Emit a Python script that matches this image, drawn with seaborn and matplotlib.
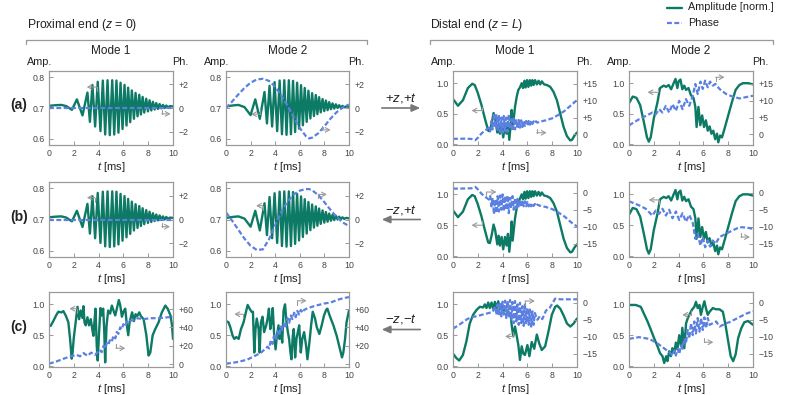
import numpy as np
import pandas as pd
import matplotlib
matplotlib.use("Agg")
import matplotlib.pyplot as plt
import seaborn as sns
from matplotlib.lines import Line2D
from matplotlib.patches import FancyArrowPatch

# ---------------- data ----------------
# Proximal end, amplitude (rows a and b share the same envelope)
PROX_M1_T = [0, 0.5, 1.0, 1.4, 1.85, 2.25, 2.7, 3.1, 3.3, 3.5, 3.72, 3.93, 4.15, 4.34, 4.53,
             4.72, 4.9, 5.1, 5.26, 5.44, 5.6, 5.77, 5.93, 6.09, 6.25, 6.38, 6.55, 6.68, 6.85, 6.98,
             7.14, 7.28, 7.41, 7.55, 7.68, 7.84, 7.98, 8.11, 8.25, 8.38, 8.52, 8.65, 8.79, 8.92, 9.06,
             9.19, 9.33, 9.46, 9.6, 9.75, 10]
PROX_M1_AMP = [0.707, 0.709, 0.71, 0.706, 0.694, 0.728, 0.676, 0.75, 0.655, 0.775, 0.64, 0.785, 0.625, 0.789, 0.614,
               0.79, 0.612, 0.79, 0.614, 0.789, 0.62, 0.782, 0.632, 0.775, 0.643, 0.766, 0.654, 0.757, 0.665, 0.749,
               0.673, 0.743, 0.679, 0.736, 0.685, 0.73, 0.689, 0.725, 0.692, 0.72, 0.695, 0.716, 0.697, 0.713, 0.699,
               0.71, 0.7, 0.708, 0.702, 0.706, 0.705]
PROX_M2_T = [0, 0.5, 1.0, 1.5, 2.0, 2.38, 2.75, 3.13, 3.33, 3.54, 3.75, 3.95, 4.16, 4.36, 4.55,
             4.74, 4.92, 5.11, 5.28, 5.45, 5.62, 5.78, 5.94, 6.1, 6.25, 6.4, 6.56, 6.7, 6.86, 7.0,
             7.15, 7.3, 7.43, 7.57, 7.7, 7.85, 7.99, 8.12, 8.26, 8.39, 8.53, 8.66, 8.8, 8.93, 9.07,
             9.2, 9.34, 9.47, 9.61, 9.76, 10]
PROX_M2_AMP = [0.705, 0.708, 0.71, 0.703, 0.677, 0.728, 0.665, 0.752, 0.65, 0.772, 0.64, 0.784, 0.625, 0.789, 0.615,
               0.79, 0.613, 0.79, 0.615, 0.788, 0.622, 0.782, 0.633, 0.774, 0.644, 0.765, 0.655, 0.756, 0.666, 0.748,
               0.674, 0.742, 0.68, 0.735, 0.686, 0.729, 0.69, 0.724, 0.693, 0.719, 0.696, 0.715, 0.698, 0.712, 0.7,
               0.709, 0.701, 0.707, 0.702, 0.705, 0.704]
# Proximal phases
PROX_M1_PH_T = [0, 2.5, 5, 7.5, 10]
PROX_A_M1_PH = [0, 0, 0, 0, 0]
PROX_B_M1_PH = [0, 0, 0, 0, 0]
PROX_M2_PH_T = [0, 0.5, 1, 1.5, 2, 2.5, 3, 3.5, 4, 4.5, 5, 5.5, 6, 6.5, 6.75, 7, 7.5, 8, 8.5, 9, 9.5, 10]
PROX_A_M2_PH = [0, 0.55, 1.15, 1.7, 2.15, 2.42, 2.48, 2.3, 1.8, 1.05, 0.2, -0.75, -1.7, -2.4, -2.58, -2.52,
                -2.15, -1.55, -0.9, -0.35, 0.05, 0.3]
PROX_B_M2_PH = [0.6, -0.1, -0.85, -1.6, -2.2, -2.55, -2.5, -1.65, -0.45, 0.65, 1.5, 2.1, 2.42, 2.55, 2.55, 2.45,
                2.05, 1.45, 0.8, 0.2, -0.25, -0.55]

# Distal end, amplitude (rows a and b)
DIST_M1_T = [0, 0.4, 0.8, 1.2, 1.55, 1.75, 2.0, 2.3, 2.57, 2.84, 2.97, 3.14, 3.27, 3.4, 3.57, 3.68, 3.78, 3.92,
             4.05, 4.19, 4.32, 4.43, 4.54, 4.65, 4.73, 4.81, 5.0, 5.14, 5.27, 5.4, 5.54, 5.65, 5.76, 5.86, 5.97,
             6.08, 6.19, 6.3, 6.4, 6.5, 6.62, 6.76, 6.9, 7.03, 7.16, 7.35, 7.57, 7.84, 8.1, 8.38, 8.65, 8.92,
             9.19, 9.46, 9.6, 9.8, 10]
DIST_M1_AMP = [0.74, 0.63, 0.72, 0.92, 0.99, 0.97, 0.84, 0.64, 0.42, 0.22, 0.21, 0.36, 0.51, 0.42, 0.19, 0.33, 0.17,
               0.31, 0.11, 0.31, 0.17, 0.36, 0.07, 0.31, 0.56, 0.25, 0.61, 0.78, 0.89, 0.93, 1.0, 0.92, 1.04, 0.93,
               1.05, 0.94, 1.05, 0.96, 1.05, 0.97, 1.05, 0.98, 1.04, 0.98, 1.03, 0.98, 0.97, 0.94, 0.86, 0.72, 0.5,
               0.28, 0.13, 0.06, 0.07, 0.14, 0.19]
DIST_M2_T = [0, 0.3, 0.6, 0.9, 1.2, 1.45, 1.6, 1.75, 2.0, 2.3, 2.5, 2.8, 3.0, 3.2, 3.4, 3.6, 3.75, 3.9, 4.0, 4.15,
             4.3, 4.45, 4.6, 4.8, 5.0, 5.2, 5.35, 5.45, 5.6, 5.75, 5.9, 6.05, 6.2, 6.35, 6.5, 6.65, 6.8, 6.95,
             7.1, 7.2, 7.35, 7.5, 7.7, 8.0, 8.3, 8.6, 8.9, 9.2, 9.6, 10]
DIST_M2_AMP = [0.67, 0.78, 0.76, 0.64, 0.36, 0.11, 0.04, 0.11, 0.42, 0.69, 0.92, 0.96, 0.94, 0.97, 0.9, 1.0, 1.07,
               0.92, 1.03, 1.06, 0.9, 0.96, 0.89, 0.92, 0.8, 0.76, 0.61, 0.28, 0.61, 0.31, 0.47, 0.28, 0.39, 0.22,
               0.29, 0.17, 0.22, 0.08, 0.17, 0.03, 0.14, 0.11, 0.25, 0.47, 0.69, 0.89, 0.97, 1.0, 1.0, 0.98]
# Distal phases
DIST_M1_PH_T = [0, 0.5, 1.0, 1.5, 1.8, 2.0, 2.3, 2.6, 2.9, 3.0,
                3.1, 3.2, 3.3, 3.4, 3.5, 3.6, 3.7, 3.8, 3.9, 4.0,
                4.1, 4.2, 4.3, 4.4, 4.5, 4.6, 4.7, 4.8, 4.9, 5.0,
                5.1, 5.2, 5.3, 5.4, 5.5, 5.6, 5.7, 5.8, 5.9, 6.0,
                6.1, 6.2, 6.3, 6.4, 6.5, 6.6, 6.7, 6.8,
                7.0, 7.5, 8.0, 8.5, 9.0, 9.5, 10]
DIST_A_M1_PH = [-1.3, -1.3, -1.25, -1.35, -1.7, -1.0, 0.3, 1.2, 2.0, 1.0,
                4.0, 1.5, 6.3, 2.0, 6.0, 1.0, 5.5, 0.8, 5.0, 0.5,
                5.5, 1.0, 5.0, 0.8, 6.0, 1.5, 4.5, 1.0, 5.0, 1.5,
                4.5, 1.8, 4.3, 2.0, 4.2, 2.2, 4.0, 2.5, 4.0, 2.7,
                4.0, 2.9, 4.0, 3.1, 3.9, 3.3, 3.9, 3.5,
                3.8, 4.2, 4.8, 5.8, 7.0, 8.6, 10.2]
DIST_B_M1_PH = [1.2, 1.2, 1.25, 1.3, 1.7, 1.0, -0.3, -1.2, -2.0, -1.0,
                -4.0, -1.5, -6.3, -2.0, -6.0, -1.0, -5.5, -0.8, -5.0, -0.5,
                -5.5, -1.0, -5.0, -0.8, -6.0, -1.5, -4.5, -1.0, -5.0, -1.5,
                -4.5, -1.8, -4.3, -2.0, -4.2, -2.2, -4.0, -2.5, -4.0, -2.7,
                -4.0, -2.9, -4.0, -3.1, -3.9, -3.3, -3.9, -3.5,
                -3.8, -4.2, -4.8, -5.8, -7.0, -8.6, -9.9]
DIST_M2_PH_T = [0, 0.81, 1.35, 1.89, 2.16, 2.43, 2.7, 2.97, 3.24, 3.51, 3.78, 4.05, 4.32, 4.59, 4.86, 5.14,
                5.35, 5.54, 5.76, 5.95, 6.14, 6.35, 6.54, 6.76, 6.97, 7.3, 7.84, 8.38, 8.92, 9.46, 10]
DIST_A_M2_PH = [2.7, 4.5, 5.5, 6.5, 6.0, 7.5, 6.5, 8.5, 6.5, 9.0, 7.0, 10.0, 7.5, 10.5, 8.5, 11.5,
                15.0, 12.0, 15.7, 13.5, 16.0, 14.0, 15.7, 14.5, 15.0, 13.5, 12.0, 11.2, 10.7, 11.1, 11.5]
DIST_B_M2_PH = [-2.5, -3.7, -4.7, -6.7, -5.2, -6.2, -4.7, -6.7, -5.0, -7.5, -5.5, -8.0, -6.0, -8.5, -6.5, -8.8,
                -13.5, -12.0, -15.5, -13.0, -16.0, -14.0, -15.8, -14.0, -15.0, -13.0, -12.0, -11.0, -10.1, -10.2, -10.6]

# Row c (-z, -t)
C_PROX_M1_T = [0, 0.13, 0.35, 0.57, 0.75, 1.0, 1.16, 1.37, 1.56, 1.7, 1.83, 1.9, 2.0, 2.18, 2.3, 2.43, 2.56,
               2.7, 2.78, 2.86, 2.96, 3.1, 3.23, 3.37, 3.48, 3.58, 3.66, 3.75, 3.85, 3.93, 4.04, 4.15, 4.23,
               4.37, 4.45, 4.53, 4.64, 4.77, 4.93, 5.07, 5.2, 5.34, 5.47, 5.63, 5.74, 5.88, 6.0, 6.15, 6.28,
               6.39, 6.5, 6.6, 6.7, 6.85, 6.98, 7.12, 7.28, 7.41, 7.63, 7.85, 8.03, 8.17, 8.36, 8.57, 8.84,
               9.1, 9.38, 9.57, 9.8, 9.92, 10]
C_PROX_M1_AMP = [0.66, 0.65, 0.73, 0.82, 0.88, 0.87, 0.89, 0.81, 0.71, 0.44, 0.12, 0.22, 0.46, 0.76, 0.96, 0.76,
                 0.9, 0.78, 0.97, 0.71, 0.66, 0.79, 0.66, 0.76, 0.61, 0.49, 0.71, 0.93, 0.33, 0.09, 0.55, 0.94,
                 0.82, 0.93, 0.6, 0.06, 0.65, 0.9, 0.85, 0.98, 0.9, 0.82, 0.93, 1.07, 0.99, 0.8, 0.88, 0.93,
                 0.66, 0.5, 0.71, 0.79, 0.87, 0.73, 0.84, 0.81, 0.87, 0.81, 0.76, 0.5, 0.17, 0.22, 0.5, 0.6,
                 0.71, 0.87, 0.98, 0.93, 0.82, 0.66, 0.44]
C_PROX_M1_PH_T = [0, 0.6, 1.16, 1.7, 2.24, 2.5, 2.8, 3.1, 3.4, 3.7, 3.85, 4.1, 4.25, 4.4, 4.55, 4.66, 4.8,
                  4.9, 5.05, 5.2, 5.35, 5.47, 5.6, 5.74, 5.87, 6.0, 6.15, 6.28, 6.42, 6.55, 6.8, 7.1, 7.63,
                  8.17, 8.7, 9.25, 10]
C_PROX_M1_PH = [0.4, 2.9, 5.8, 8.3, 10.0, 8.5, 12.0, 9.0, 12.5, 10.0, 12.0, 15.5, 13.0, 20.0, 17.0, 23.0,
                21.0, 26.0, 24.0, 31.0, 28.0, 35.0, 33.0, 40.0, 38.0, 43.5, 41.0, 46.0, 45.0, 47.0, 48.0,
                50.0, 49.0, 50.0, 50.0, 50.5, 51.6]
C_PROX_M2_T = [0, 0.2, 0.35, 0.54, 0.68, 0.84, 1.03, 1.22, 1.43, 1.65, 1.76, 1.92, 2.08, 2.19, 2.3, 2.4, 2.5,
               2.65, 2.73, 2.84, 2.97, 3.1, 3.27, 3.38, 3.49, 3.6, 3.7, 3.8, 3.92, 4.03, 4.14, 4.27, 4.35,
               4.46, 4.57, 4.68, 4.8, 4.92, 5.03, 5.13, 5.24, 5.32, 5.43, 5.51, 5.62, 5.73, 5.84, 5.95, 6.08,
               6.2, 6.35, 6.51, 6.62, 6.78, 6.92, 7.05, 7.24, 7.38, 7.59, 7.78, 7.97, 8.14, 8.24, 8.46, 8.73,
               9.0, 9.27, 9.43, 9.54, 9.68, 9.8, 10]
C_PROX_M2_AMP = [0.73, 0.71, 0.63, 0.49, 0.44, 0.47, 0.44, 0.6, 0.71, 0.9, 0.99, 0.93, 0.88, 0.88, 0.22, 0.6,
                 0.77, 0.6, 0.22, 0.71, 0.8, 0.55, 0.66, 0.77, 0.93, 0.6, 0.71, 0.94, 0.49, 0.27, 0.49, 0.66,
                 0.44, 0.6, 0.38, 0.9, 1.0, 0.71, 0.55, 0.44, 0.22, 0.11, 0.49, 0.6, 0.14, 0.44, 0.55, 0.66,
                 0.22, 0.44, 0.55, 0.33, 0.11, 0.38, 0.66, 0.88, 0.77, 0.63, 0.52, 0.66, 0.82, 0.91, 0.93, 0.8,
                 0.66, 0.49, 0.27, 0.14, 0.22, 0.44, 0.71, 0.9]
C_PROX_M2_PH_T = [0, 0.9, 1.7, 2.24, 2.8, 3.1, 3.38, 3.5, 3.65, 3.78, 3.9, 4.05, 4.2, 4.33, 4.46, 4.6, 4.73,
                  4.86, 5.0, 5.14, 5.27, 5.4, 5.54, 5.67, 5.8, 5.95, 6.08, 6.22, 6.35, 6.6, 7.0, 7.4, 7.97,
                  8.5, 9.05, 9.6, 10]
C_PROX_M2_PH = [0.4, 2.2, 4.7, 8.3, 12.0, 15.5, 19.0, 17.0, 26.0, 22.0, 31.0, 27.0, 36.0, 31.0, 41.0, 37.0,
                45.0, 41.0, 50.0, 45.0, 53.0, 49.0, 56.0, 51.0, 58.0, 54.0, 59.0, 56.0, 59.0, 60.6, 62.5,
                64.0, 66.0, 67.0, 70.0, 72.0, 73.0]
C_DIST_M1_T = [0, 0.27, 0.5, 0.8, 1.08, 1.35, 1.62, 1.9, 2.16, 2.43, 2.57, 2.7, 2.84, 2.97, 3.11, 3.24, 3.38,
               3.51, 3.65, 3.78, 3.92, 4.05, 4.3, 4.5, 4.65, 4.73, 4.86, 5.0, 5.13, 5.27, 5.4, 5.54, 5.67, 5.8,
               6.0, 6.16, 6.35, 6.55, 6.76, 6.95, 7.16, 7.43, 7.7, 7.97, 8.24, 8.4, 8.65, 8.92, 9.19, 9.46,
               9.73, 10]
C_DIST_M1_AMP = [0.2, 0.13, 0.09, 0.18, 0.4, 0.69, 0.83, 0.91, 0.96, 0.95, 1.0, 0.94, 1.03, 0.94, 1.03, 0.93,
                 1.04, 0.93, 1.05, 0.92, 1.0, 0.9, 0.9, 0.87, 0.83, 0.67, 0.48, 0.64, 0.5, 0.34, 0.1, 0.32, 0.2,
                 0.18, 0.34, 0.16, 0.39, 0.28, 0.51, 0.37, 0.26, 0.32, 0.56, 0.83, 0.96, 0.98, 0.93, 0.82, 0.69,
                 0.64, 0.69, 0.77]
C_DIST_M1_PH_T = [0, 0.4, 0.8, 1.2, 1.6, 2.16, 2.7, 3.2,
                  3.4, 3.5, 3.6, 3.7, 3.8, 3.9, 4.0, 4.1, 4.2, 4.3,
                  4.4, 4.5, 4.6, 4.7, 4.8, 4.9, 5.0, 5.1, 5.2, 5.3,
                  5.4, 5.5, 5.6, 5.7, 5.8, 5.9, 6.0, 6.1, 6.2, 6.3,
                  6.4, 6.5, 6.6, 6.8, 7.0, 7.2, 7.5, 7.8, 8.0, 8.24, 8.65, 9.2, 10]
C_DIST_M1_PH = [-7.6, -6.7, -5.7, -4.7, -4.2, -3.7, -3.2, -2.7,
                -1.0, -3.5, -0.5, -3.8, 0.0, -4.0, 0.3, -3.5, 0.6, -4.5,
                0.5, -4.0, 0.8, -5.0, 0.2, -6.0, 0.5, -5.5, -0.5, -6.5,
                0.0, -6.0, -1.0, -6.8, -0.5, -6.0, -1.5, -6.5, -2.0, -7.0,
                -2.5, -6.5, -3.0, -5.0, -4.0, -4.8, -2.3, -1.5, -0.3, 1.2, 1.0, 1.0, 1.0]
C_DIST_M2_T = [0, 0.54, 0.95, 1.2, 1.5, 1.76, 2.03, 2.3, 2.5, 2.7, 2.84, 3.0, 3.1, 3.24, 3.38, 3.5, 3.65,
               3.78, 3.9, 4.05, 4.2, 4.3, 4.46, 4.6, 4.73, 4.86, 5.07, 5.27, 5.4, 5.54, 5.68, 5.8, 5.95, 6.08,
               6.2, 6.35, 6.5, 6.76, 7.0, 7.3, 7.57, 7.78, 8.0, 8.2, 8.4, 8.6, 8.8, 9.05, 9.3, 9.6, 9.86, 10]
C_DIST_M2_AMP = [0.99, 0.99, 0.96, 0.85, 0.72, 0.59, 0.45, 0.32, 0.21, 0.16, 0.05, 0.16, 0.08, 0.24, 0.16,
                 0.29, 0.21, 0.38, 0.27, 0.5, 0.32, 0.62, 0.29, 0.69, 0.77, 0.83, 0.91, 0.96, 1.04, 0.94, 0.99,
                 0.83, 0.96, 1.05, 0.94, 0.83, 0.88, 0.94, 0.92, 0.92, 0.88, 0.67, 0.4, 0.16, 0.08, 0.19, 0.45,
                 0.61, 0.71, 0.73, 0.69, 0.67]
C_DIST_M2_PH_T = [0, 0.81, 1.62, 2.16, 2.7, 3.24, 3.51, 3.65, 3.78, 3.92, 4.05, 4.2, 4.32, 4.46, 4.59, 4.73,
                  4.86, 5.0, 5.14, 5.27, 5.4, 5.54, 5.68, 5.81, 5.95, 6.08, 6.22, 6.35, 6.5, 6.76, 7.03, 7.3,
                  7.57, 7.84, 8.11, 8.38, 8.92, 9.46, 10]
C_DIST_M2_PH = [-10.6, -10.1, -10.6, -11.6, -13.0, -14.5, -15.5, -14.0, -15.5, -13.5, -15.0, -12.5, -13.5,
                -10.5, -12.0, -8.0, -10.5, -6.0, -9.5, -5.5, -9.0, -4.5, -8.5, -4.5, -8.0, -4.3, -7.5, -4.5,
                -6.5, -6.0, -5.5, -7.0, -6.5, -6.0, -5.7, -5.2, -4.2, -3.2, -2.5]

ROW_LABELS = ["(a)", "(b)", "(c)"]
DIRECTION_LABELS = ["+$z$,+$t$", "\u2212$z$,+$t$", "\u2212$z$,\u2212$t$"]
MODE_TITLES = ["Mode 1", "Mode 2", "Mode 1", "Mode 2"]
X_TICKS = [0, 2, 4, 6, 8, 10]

# ---------------- style ----------------
sns.set_theme(style="white")
plt.rcParams['font.family'] = ['Liberation Sans', 'DejaVu Sans']
plt.rcParams['mathtext.fontset'] = 'custom'
plt.rcParams['mathtext.it'] = 'Liberation Sans:italic'
plt.rcParams['mathtext.rm'] = 'Liberation Sans'
plt.rcParams['mathtext.sf'] = 'Liberation Sans'

AMP_C = '#0c7a64'
PH_C = '#5b80e2'
SPINE = '#999999'
TICKLAB = '#444444'
IND = '#9a9a9a'
TXT = '#222222'

W, H = 789, 395
fig = plt.figure(figsize=(W / 100, H / 100), dpi=100)


def fx(x):
    return x / W


def fy(y):
    return 1 - y / H


COLS = [(49, 173), (226, 349), (453, 577), (629, 753)]
ROWS = [(71, 145), (182, 257), (292, 367)]

AMP_PROX = dict(lim=(0.58, 0.82), ticks=[0.6, 0.7, 0.8], labels=["0.6", "0.7", "0.8"])
AMP_FULL = dict(lim=(-0.015, 1.2), ticks=[0.0, 0.5, 1.0], labels=["0.0", "0.5", "1.0"])
PH_SMALL = dict(lim=(-np.pi, np.pi), ticks=[-2, 0, 2], labels=["\u22122", "0", "+2"])
PH_POS = dict(lim=(-np.pi, 6 * np.pi), ticks=[0, 5, 10, 15], labels=["0", "+5", "+10", "+15"])
PH_NEG = dict(lim=(-6 * np.pi, np.pi), ticks=[-15, -10, -5, 0], labels=["\u221215", "\u221210", "\u22125", "0"])
PH_BIG = dict(lim=(-np.pi, 25 * np.pi), ticks=[0, 20, 40, 60], labels=["0", "+20", "+40", "+60"])

# (amp_t, amp_v, ph_t, ph_v, amp_axis, ph_axis, amp_indicator, ph_indicator)
# indicator: (tail_t, head_t, y, stub_px)
PANELS = [
    [(PROX_M1_T, PROX_M1_AMP, PROX_M1_PH_T, PROX_A_M1_PH, AMP_PROX, PH_SMALL, (3.85, 3.05, 0.768, -4), (9.1, 9.8, -0.5, 4)),
     (PROX_M2_T, PROX_M2_AMP, PROX_M2_PH_T, PROX_A_M2_PH, AMP_PROX, PH_SMALL, (2.8, 2.05, 0.68, 4), (7.8, 8.5, -1.86, 4)),
     (DIST_M1_T, DIST_M1_AMP, DIST_M1_PH_T, DIST_A_M1_PH, AMP_FULL, PH_POS, (2.3, 1.5, 0.55, 4), (6.75, 7.55, 0.5, 4)),
     (DIST_M2_T, DIST_M2_AMP, DIST_M2_PH_T, DIST_A_M2_PH, AMP_FULL, PH_POS, (2.3, 1.5, 0.85, 4), (7.0, 7.7, 17.0, -4))],
    [(PROX_M1_T, PROX_M1_AMP, PROX_M1_PH_T, PROX_B_M1_PH, AMP_PROX, PH_SMALL, (3.7, 3.06, 0.77, -4), (9.1, 9.75, -0.6, 4)),
     (PROX_M2_T, PROX_M2_AMP, PROX_M2_PH_T, PROX_B_M2_PH, AMP_PROX, PH_SMALL, (3.0, 2.45, 0.744, -4), (7.5, 8.2, 2.1, -4)),
     (DIST_M1_T, DIST_M1_AMP, DIST_M1_PH_T, DIST_B_M1_PH, AMP_FULL, PH_NEG, (2.3, 1.5, 0.5, 4), (2.7, 3.5, 0.2, -4)),
     (DIST_M2_T, DIST_M2_AMP, DIST_M2_PH_T, DIST_B_M2_PH, AMP_FULL, PH_NEG, (2.45, 1.6, 0.91, -4), (9.05, 9.75, -13.0, 4))],
    [(C_PROX_M1_T, C_PROX_M1_AMP, C_PROX_M1_PH_T, C_PROX_M1_PH, AMP_FULL, PH_BIG, (2.25, 1.65, 0.93, -4), (5.4, 6.15, 17.3, 4)),
     (C_PROX_M2_T, C_PROX_M2_AMP, C_PROX_M2_PH_T, C_PROX_M2_PH, AMP_FULL, PH_BIG, (1.35, 0.68, 0.84, -4), (5.8, 6.55, 69.0, -4)),
     (C_DIST_M1_T, C_DIST_M1_AMP, C_DIST_M1_PH_T, C_DIST_M1_PH, AMP_FULL, PH_NEG, (4.86, 4.2, 0.48, 4), (5.8, 6.6, 0.5, -4)),
     (C_DIST_M2_T, C_DIST_M2_AMP, C_DIST_M2_PH_T, C_DIST_M2_PH, AMP_FULL, PH_NEG, (5.0, 4.3, 0.83, 4), (6.08, 6.8, -11.6, 4))],
]


def indicator(ax, spec, lim, hpx):
    tail, head, y, stub = spec
    dy = stub * (lim[1] - lim[0]) / hpx
    ax.add_line(Line2D([tail, tail], [y, y + dy], color=IND, lw=0.8, zorder=5))
    ax.annotate('', xy=(head, y), xytext=(tail, y),
                arrowprops=dict(arrowstyle='->,head_length=0.25,head_width=0.14', color=IND, lw=0.8,
                                shrinkA=0, shrinkB=0), zorder=5)


for r, (y0, y1) in enumerate(ROWS):
    for c, (x0, x1) in enumerate(COLS):
        at, av, pt, pv, aax, pax, aind, pind = PANELS[r][c]
        ax = fig.add_axes([fx(x0), fy(y1), (x1 - x0) / W, (y1 - y0) / H])
        ax2 = ax.twinx()
        amp_df = pd.DataFrame({'t': at, 'v': av})
        ph_df = pd.DataFrame({'t': pt, 'v': pv})
        sns.lineplot(data=amp_df, x='t', y='v', ax=ax, color=AMP_C, lw=1.7, estimator=None, sort=False)
        sns.lineplot(data=ph_df, x='t', y='v', ax=ax2, color=PH_C, lw=1.6, estimator=None, sort=False,
                     linestyle=(0, (2.2, 1.1)), dash_capstyle='butt')
        ax.set_xlim(0, 10)
        ax.set_xticks(X_TICKS)
        ax.set_ylim(*aax['lim'])
        ax.set_yticks(aax['ticks'])
        ax.set_yticklabels(aax['labels'])
        ax2.set_ylim(*pax['lim'])
        ax2.set_yticks(pax['ticks'])
        ax2.set_yticklabels(pax['labels'])
        ax.set_ylabel('')
        ax2.set_ylabel('')
        ax.set_xlabel('$t$ [ms]', fontsize=8, color=TXT, labelpad=1.5)
        for a in (ax, ax2):
            for s in a.spines.values():
                s.set_color(SPINE)
                s.set_linewidth(0.8)
        ax.tick_params(axis='both', direction='in', length=3, width=0.7, color=SPINE,
                       labelsize=6.3, labelcolor=TICKLAB, pad=3)
        ax.tick_params(axis='y', left=True, right=False)
        ax.tick_params(axis='x', bottom=True, top=False)
        ax2.tick_params(axis='y', direction='in', length=3, width=0.7, color=SPINE,
                        labelsize=6.3, labelcolor=TICKLAB, pad=4, right=True, left=False)
        indicator(ax, aind, aax['lim'], y1 - y0)
        indicator(ax2, pind, pax['lim'], y1 - y0)
        if r == 0:
            fig.text(fx((x0 + x1) / 2), fy(51), MODE_TITLES[c], ha='center', va='center',
                     fontsize=8.5, color=TXT)
            fig.text(fx(x0 - 22), fy(62), "Amp.", ha='left', va='center', fontsize=7.8, color=TXT)
            fig.text(fx(x1 - 1), fy(62), "Ph.", ha='left', va='center', fontsize=7.8, color=TXT)

    yc = (y0 + y1) / 2
    fig.text(fx(19), fy(yc - 3), ROW_LABELS[r], ha='center', va='center', fontsize=10,
             fontweight='bold', color=TXT)
    if r == 0:
        p0, p1 = (379, 423)
    else:
        p0, p1 = (423, 379)
    fig.add_artist(FancyArrowPatch((fx(p0), fy(yc)), (fx(p1), fy(yc)), transform=fig.transFigure,
                                   arrowstyle='-|>,head_length=5,head_width=2.2', mutation_scale=1,
                                   color='#777777', lw=1.2))
    fig.text(fx(401), fy(yc - 10), DIRECTION_LABELS[r], ha='center', va='center', fontsize=9.5, color=TXT)

# headers and brackets
fig.text(fx(27), fy(25), "Proximal end ($z$ = 0)", ha='left', va='center', fontsize=8.7, color=TXT)
fig.text(fx(430), fy(25), "Distal end ($z$ = $L$)", ha='left', va='center', fontsize=8.7, color=TXT)
for (bx0, bx1) in [(26, 367), (430, 773)]:
    fig.add_artist(Line2D([fx(bx0), fx(bx0), fx(bx1), fx(bx1)], [fy(44), fy(39.5), fy(39.5), fy(44)],
                          transform=fig.transFigure, color=SPINE, lw=0.9))

# legend
fig.add_artist(Line2D([fx(667), fx(682)], [fy(7.5), fy(7.5)], transform=fig.transFigure, color=AMP_C, lw=1.7))
fig.add_artist(Line2D([fx(667), fx(682)], [fy(22.5), fy(22.5)], transform=fig.transFigure, color=PH_C, lw=1.6,
                      linestyle=(0, (2.2, 1.1))))
fig.text(fx(688), fy(7.5), "Amplitude [norm.]", ha='left', va='center', fontsize=7.8, color=TXT)
fig.text(fx(688), fy(22.5), "Phase", ha='left', va='center', fontsize=7.8, color=TXT)

fig.savefig("out.png", dpi=100)
